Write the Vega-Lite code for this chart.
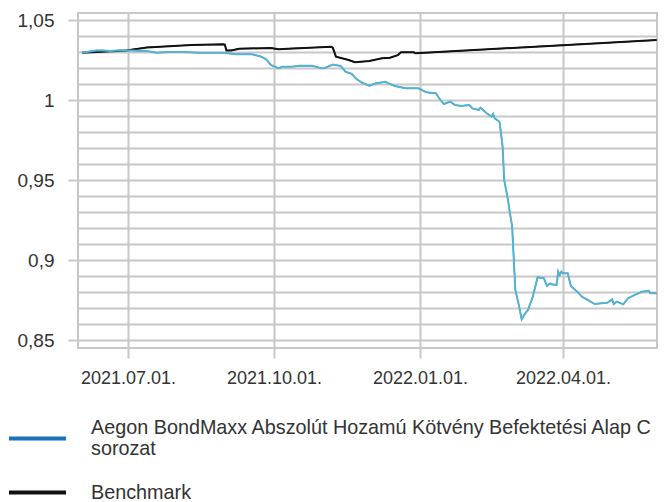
{
  "$schema": "https://vega.github.io/schema/vega-lite/v6.json",
  "width": 579,
  "height": 335,
  "autosize": "none",
  "padding": {"left": 78, "top": 13, "right": 8, "bottom": 154},
  "background": "white",
  "config": {
    "view": {"stroke": "#c8c8c8", "strokeWidth": 2},
    "font": "Liberation Sans"
  },
  "data": {
    "values": [
      {"date": "2021-06-02", "value": 1.0296, "series": "Benchmark"},
      {"date": "2021-06-30", "value": 1.031, "series": "Benchmark"},
      {"date": "2021-07-13", "value": 1.0329, "series": "Benchmark"},
      {"date": "2021-08-10", "value": 1.0344, "series": "Benchmark"},
      {"date": "2021-08-30", "value": 1.0348, "series": "Benchmark"},
      {"date": "2021-08-31", "value": 1.0346, "series": "Benchmark"},
      {"date": "2021-09-01", "value": 1.031, "series": "Benchmark"},
      {"date": "2021-09-04", "value": 1.031, "series": "Benchmark"},
      {"date": "2021-09-09", "value": 1.0321, "series": "Benchmark"},
      {"date": "2021-09-29", "value": 1.0325, "series": "Benchmark"},
      {"date": "2021-10-04", "value": 1.0317, "series": "Benchmark"},
      {"date": "2021-10-10", "value": 1.0321, "series": "Benchmark"},
      {"date": "2021-11-06", "value": 1.0333, "series": "Benchmark"},
      {"date": "2021-11-07", "value": 1.0327, "series": "Benchmark"},
      {"date": "2021-11-09", "value": 1.0271, "series": "Benchmark"},
      {"date": "2021-11-17", "value": 1.025, "series": "Benchmark"},
      {"date": "2021-11-21", "value": 1.0236, "series": "Benchmark"},
      {"date": "2021-11-30", "value": 1.0244, "series": "Benchmark"},
      {"date": "2021-12-08", "value": 1.0261, "series": "Benchmark"},
      {"date": "2021-12-13", "value": 1.0264, "series": "Benchmark"},
      {"date": "2021-12-18", "value": 1.0281, "series": "Benchmark"},
      {"date": "2021-12-20", "value": 1.0298, "series": "Benchmark"},
      {"date": "2021-12-28", "value": 1.0298, "series": "Benchmark"},
      {"date": "2021-12-29", "value": 1.0292, "series": "Benchmark"},
      {"date": "2022-04-01", "value": 1.0343, "series": "Benchmark"},
      {"date": "2022-05-30", "value": 1.0375, "series": "Benchmark"},
      {"date": "2021-06-02", "value": 1.0296, "series": "Aegon BondMaxx Abszolút Hozamú Kötvény Befektetési Alap C sorozat"},
      {"date": "2021-06-11", "value": 1.031, "series": "Aegon BondMaxx Abszolút Hozamú Kötvény Befektetési Alap C sorozat"},
      {"date": "2021-06-15", "value": 1.031, "series": "Aegon BondMaxx Abszolút Hozamú Kötvény Befektetési Alap C sorozat"},
      {"date": "2021-06-20", "value": 1.0306, "series": "Aegon BondMaxx Abszolút Hozamú Kötvény Befektetési Alap C sorozat"},
      {"date": "2021-06-26", "value": 1.0311, "series": "Aegon BondMaxx Abszolút Hozamú Kötvény Befektetési Alap C sorozat"},
      {"date": "2021-07-01", "value": 1.031, "series": "Aegon BondMaxx Abszolút Hozamú Kötvény Befektetési Alap C sorozat"},
      {"date": "2021-07-13", "value": 1.0306, "series": "Aegon BondMaxx Abszolút Hozamú Kötvény Befektetési Alap C sorozat"},
      {"date": "2021-07-19", "value": 1.0296, "series": "Aegon BondMaxx Abszolút Hozamú Kötvény Befektetési Alap C sorozat"},
      {"date": "2021-07-27", "value": 1.03, "series": "Aegon BondMaxx Abszolút Hozamú Kötvény Befektetési Alap C sorozat"},
      {"date": "2021-08-04", "value": 1.03, "series": "Aegon BondMaxx Abszolút Hozamú Kötvény Befektetési Alap C sorozat"},
      {"date": "2021-08-15", "value": 1.0296, "series": "Aegon BondMaxx Abszolút Hozamú Kötvény Befektetési Alap C sorozat"},
      {"date": "2021-08-29", "value": 1.0296, "series": "Aegon BondMaxx Abszolút Hozamú Kötvény Befektetési Alap C sorozat"},
      {"date": "2021-09-02", "value": 1.0292, "series": "Aegon BondMaxx Abszolút Hozamú Kötvény Befektetési Alap C sorozat"},
      {"date": "2021-09-07", "value": 1.0286, "series": "Aegon BondMaxx Abszolút Hozamú Kötvény Befektetési Alap C sorozat"},
      {"date": "2021-09-17", "value": 1.0286, "series": "Aegon BondMaxx Abszolút Hozamú Kötvény Befektetési Alap C sorozat"},
      {"date": "2021-09-23", "value": 1.0271, "series": "Aegon BondMaxx Abszolút Hozamú Kötvény Befektetési Alap C sorozat"},
      {"date": "2021-09-26", "value": 1.0254, "series": "Aegon BondMaxx Abszolút Hozamú Kötvény Befektetési Alap C sorozat"},
      {"date": "2021-09-29", "value": 1.0219, "series": "Aegon BondMaxx Abszolút Hozamú Kötvény Befektetési Alap C sorozat"},
      {"date": "2021-10-04", "value": 1.0198, "series": "Aegon BondMaxx Abszolút Hozamú Kötvény Befektetési Alap C sorozat"},
      {"date": "2021-10-06", "value": 1.0208, "series": "Aegon BondMaxx Abszolút Hozamú Kötvény Befektetési Alap C sorozat"},
      {"date": "2021-10-12", "value": 1.0208, "series": "Aegon BondMaxx Abszolút Hozamú Kötvény Befektetési Alap C sorozat"},
      {"date": "2021-10-17", "value": 1.0214, "series": "Aegon BondMaxx Abszolút Hozamú Kötvény Befektetési Alap C sorozat"},
      {"date": "2021-10-25", "value": 1.0214, "series": "Aegon BondMaxx Abszolút Hozamú Kötvény Befektetési Alap C sorozat"},
      {"date": "2021-10-31", "value": 1.0198, "series": "Aegon BondMaxx Abszolút Hozamú Kötvény Befektetési Alap C sorozat"},
      {"date": "2021-11-02", "value": 1.02, "series": "Aegon BondMaxx Abszolút Hozamú Kötvény Befektetési Alap C sorozat"},
      {"date": "2021-11-07", "value": 1.0222, "series": "Aegon BondMaxx Abszolút Hozamú Kötvény Befektetési Alap C sorozat"},
      {"date": "2021-11-12", "value": 1.0213, "series": "Aegon BondMaxx Abszolút Hozamú Kötvény Befektetési Alap C sorozat"},
      {"date": "2021-11-15", "value": 1.0177, "series": "Aegon BondMaxx Abszolút Hozamú Kötvény Befektetési Alap C sorozat"},
      {"date": "2021-11-19", "value": 1.0163, "series": "Aegon BondMaxx Abszolút Hozamú Kötvény Befektetési Alap C sorozat"},
      {"date": "2021-11-22", "value": 1.0131, "series": "Aegon BondMaxx Abszolút Hozamú Kötvény Befektetési Alap C sorozat"},
      {"date": "2021-11-25", "value": 1.0111, "series": "Aegon BondMaxx Abszolút Hozamú Kötvény Befektetési Alap C sorozat"},
      {"date": "2021-11-30", "value": 1.0089, "series": "Aegon BondMaxx Abszolút Hozamú Kötvény Befektetési Alap C sorozat"},
      {"date": "2021-12-04", "value": 1.0104, "series": "Aegon BondMaxx Abszolút Hozamú Kötvény Befektetési Alap C sorozat"},
      {"date": "2021-12-10", "value": 1.0114, "series": "Aegon BondMaxx Abszolút Hozamú Kötvény Befektetési Alap C sorozat"},
      {"date": "2021-12-16", "value": 1.0088, "series": "Aegon BondMaxx Abszolút Hozamú Kötvény Befektetési Alap C sorozat"},
      {"date": "2021-12-23", "value": 1.0073, "series": "Aegon BondMaxx Abszolút Hozamú Kötvény Befektetési Alap C sorozat"},
      {"date": "2021-12-31", "value": 1.0073, "series": "Aegon BondMaxx Abszolút Hozamú Kötvény Befektetési Alap C sorozat"},
      {"date": "2022-01-05", "value": 1.0048, "series": "Aegon BondMaxx Abszolút Hozamú Kötvény Befektetési Alap C sorozat"},
      {"date": "2022-01-11", "value": 1.0042, "series": "Aegon BondMaxx Abszolút Hozamú Kötvény Befektetési Alap C sorozat"},
      {"date": "2022-01-13", "value": 1.0011, "series": "Aegon BondMaxx Abszolút Hozamú Kötvény Befektetési Alap C sorozat"},
      {"date": "2022-01-16", "value": 0.9975, "series": "Aegon BondMaxx Abszolút Hozamú Kötvény Befektetési Alap C sorozat"},
      {"date": "2022-01-20", "value": 0.999, "series": "Aegon BondMaxx Abszolút Hozamú Kötvény Befektetési Alap C sorozat"},
      {"date": "2022-01-23", "value": 0.9969, "series": "Aegon BondMaxx Abszolút Hozamú Kötvény Befektetési Alap C sorozat"},
      {"date": "2022-01-27", "value": 0.9963, "series": "Aegon BondMaxx Abszolút Hozamú Kötvény Befektetési Alap C sorozat"},
      {"date": "2022-02-01", "value": 0.9969, "series": "Aegon BondMaxx Abszolút Hozamú Kötvény Befektetési Alap C sorozat"},
      {"date": "2022-02-03", "value": 0.9948, "series": "Aegon BondMaxx Abszolút Hozamú Kötvény Befektetési Alap C sorozat"},
      {"date": "2022-02-07", "value": 0.9938, "series": "Aegon BondMaxx Abszolút Hozamú Kötvény Befektetési Alap C sorozat"},
      {"date": "2022-02-08", "value": 0.9952, "series": "Aegon BondMaxx Abszolút Hozamú Kötvény Befektetési Alap C sorozat"},
      {"date": "2022-02-12", "value": 0.9917, "series": "Aegon BondMaxx Abszolút Hozamú Kötvény Befektetési Alap C sorozat"},
      {"date": "2022-02-15", "value": 0.9896, "series": "Aegon BondMaxx Abszolút Hozamú Kötvény Befektetési Alap C sorozat"},
      {"date": "2022-02-16", "value": 0.9913, "series": "Aegon BondMaxx Abszolút Hozamú Kötvény Befektetési Alap C sorozat"},
      {"date": "2022-02-17", "value": 0.9886, "series": "Aegon BondMaxx Abszolút Hozamú Kötvény Befektetési Alap C sorozat"},
      {"date": "2022-02-20", "value": 0.9864, "series": "Aegon BondMaxx Abszolút Hozamú Kötvény Befektetési Alap C sorozat"},
      {"date": "2022-02-21", "value": 0.9792, "series": "Aegon BondMaxx Abszolút Hozamú Kötvény Befektetési Alap C sorozat"},
      {"date": "2022-02-22", "value": 0.9708, "series": "Aegon BondMaxx Abszolút Hozamú Kötvény Befektetési Alap C sorozat"},
      {"date": "2022-02-23", "value": 0.95, "series": "Aegon BondMaxx Abszolút Hozamú Kötvény Befektetési Alap C sorozat"},
      {"date": "2022-02-25", "value": 0.9396, "series": "Aegon BondMaxx Abszolút Hozamú Kötvény Befektetési Alap C sorozat"},
      {"date": "2022-02-28", "value": 0.9208, "series": "Aegon BondMaxx Abszolút Hozamú Kötvény Befektetési Alap C sorozat"},
      {"date": "2022-03-02", "value": 0.8813, "series": "Aegon BondMaxx Abszolút Hozamú Kötvény Befektetési Alap C sorozat"},
      {"date": "2022-03-04", "value": 0.8729, "series": "Aegon BondMaxx Abszolút Hozamú Kötvény Befektetési Alap C sorozat"},
      {"date": "2022-03-06", "value": 0.8629, "series": "Aegon BondMaxx Abszolút Hozamú Kötvény Befektetési Alap C sorozat"},
      {"date": "2022-03-08", "value": 0.8663, "series": "Aegon BondMaxx Abszolút Hozamú Kötvény Befektetési Alap C sorozat"},
      {"date": "2022-03-10", "value": 0.8688, "series": "Aegon BondMaxx Abszolút Hozamú Kötvény Befektetési Alap C sorozat"},
      {"date": "2022-03-13", "value": 0.877, "series": "Aegon BondMaxx Abszolút Hozamú Kötvény Befektetési Alap C sorozat"},
      {"date": "2022-03-16", "value": 0.8892, "series": "Aegon BondMaxx Abszolút Hozamú Kötvény Befektetési Alap C sorozat"},
      {"date": "2022-03-20", "value": 0.8886, "series": "Aegon BondMaxx Abszolút Hozamú Kötvény Befektetési Alap C sorozat"},
      {"date": "2022-03-22", "value": 0.8838, "series": "Aegon BondMaxx Abszolút Hozamú Kötvény Befektetési Alap C sorozat"},
      {"date": "2022-03-24", "value": 0.8854, "series": "Aegon BondMaxx Abszolút Hozamú Kötvény Befektetési Alap C sorozat"},
      {"date": "2022-03-25", "value": 0.8848, "series": "Aegon BondMaxx Abszolút Hozamú Kötvény Befektetési Alap C sorozat"},
      {"date": "2022-03-28", "value": 0.8844, "series": "Aegon BondMaxx Abszolút Hozamú Kötvény Befektetési Alap C sorozat"},
      {"date": "2022-03-29", "value": 0.8927, "series": "Aegon BondMaxx Abszolút Hozamú Kötvény Befektetési Alap C sorozat"},
      {"date": "2022-03-30", "value": 0.8906, "series": "Aegon BondMaxx Abszolút Hozamú Kötvény Befektetési Alap C sorozat"},
      {"date": "2022-03-31", "value": 0.8927, "series": "Aegon BondMaxx Abszolút Hozamú Kötvény Befektetési Alap C sorozat"},
      {"date": "2022-04-01", "value": 0.8917, "series": "Aegon BondMaxx Abszolút Hozamú Kötvény Befektetési Alap C sorozat"},
      {"date": "2022-04-04", "value": 0.8917, "series": "Aegon BondMaxx Abszolút Hozamú Kötvény Befektetési Alap C sorozat"},
      {"date": "2022-04-06", "value": 0.8838, "series": "Aegon BondMaxx Abszolút Hozamú Kötvény Befektetési Alap C sorozat"},
      {"date": "2022-04-10", "value": 0.8802, "series": "Aegon BondMaxx Abszolút Hozamú Kötvény Befektetési Alap C sorozat"},
      {"date": "2022-04-13", "value": 0.877, "series": "Aegon BondMaxx Abszolút Hozamú Kötvény Befektetési Alap C sorozat"},
      {"date": "2022-04-16", "value": 0.8754, "series": "Aegon BondMaxx Abszolút Hozamú Kötvény Befektetési Alap C sorozat"},
      {"date": "2022-04-21", "value": 0.8725, "series": "Aegon BondMaxx Abszolút Hozamú Kötvény Befektetési Alap C sorozat"},
      {"date": "2022-04-25", "value": 0.8729, "series": "Aegon BondMaxx Abszolút Hozamú Kötvény Befektetési Alap C sorozat"},
      {"date": "2022-04-29", "value": 0.8733, "series": "Aegon BondMaxx Abszolút Hozamú Kötvény Befektetési Alap C sorozat"},
      {"date": "2022-05-02", "value": 0.8754, "series": "Aegon BondMaxx Abszolút Hozamú Kötvény Befektetési Alap C sorozat"},
      {"date": "2022-05-03", "value": 0.8725, "series": "Aegon BondMaxx Abszolút Hozamú Kötvény Befektetési Alap C sorozat"},
      {"date": "2022-05-05", "value": 0.874, "series": "Aegon BondMaxx Abszolút Hozamú Kötvény Befektetési Alap C sorozat"},
      {"date": "2022-05-09", "value": 0.8723, "series": "Aegon BondMaxx Abszolút Hozamú Kötvény Befektetési Alap C sorozat"},
      {"date": "2022-05-12", "value": 0.8761, "series": "Aegon BondMaxx Abszolút Hozamú Kötvény Befektetési Alap C sorozat"},
      {"date": "2022-05-16", "value": 0.8781, "series": "Aegon BondMaxx Abszolút Hozamú Kötvény Befektetési Alap C sorozat"},
      {"date": "2022-05-21", "value": 0.8802, "series": "Aegon BondMaxx Abszolút Hozamú Kötvény Befektetési Alap C sorozat"},
      {"date": "2022-05-25", "value": 0.8808, "series": "Aegon BondMaxx Abszolút Hozamú Kötvény Befektetési Alap C sorozat"},
      {"date": "2022-05-26", "value": 0.8792, "series": "Aegon BondMaxx Abszolút Hozamú Kötvény Befektetési Alap C sorozat"},
      {"date": "2022-05-30", "value": 0.8792, "series": "Aegon BondMaxx Abszolút Hozamú Kötvény Befektetési Alap C sorozat"}
    ]
  },
  "encoding": {
    "x": {
      "field": "date",
      "type": "temporal",
      "scale": {
        "type": "utc",
        "domain": [
          {"year": 2021, "month": 5, "date": 30, "hours": 12, "utc": true},
          {"year": 2022, "month": 5, "date": 30, "hours": 6, "utc": true}
        ]
      },
      "axis": {
        "title": null,
        "values": [
          {"year": 2021, "month": 7, "date": 1, "utc": true},
          {"year": 2021, "month": 10, "date": 1, "utc": true},
          {"year": 2022, "month": 1, "date": 1, "utc": true},
          {"year": 2022, "month": 4, "date": 1, "utc": true}
        ],
        "format": "%Y.%m.%d.",
        "grid": true,
        "gridColor": "#c8c8c8",
        "gridWidth": 2,
        "domain": false,
        "ticks": true,
        "tickColor": "#c8c8c8",
        "tickWidth": 2,
        "tickSize": 10,
        "labelPadding": 11,
        "labelFont": "Liberation Sans",
        "labelFontSize": 18,
        "labelColor": "#333333",
        "labelAlign": "center",
        "labelOverlap": false,
        "labelFlush": false
      }
    },
    "y": {
      "field": "value",
      "type": "quantitative",
      "scale": {"domain": [0.845, 1.0544], "nice": false, "zero": false},
      "axis": {
        "title": null,
        "values": [0.85, 0.86, 0.87, 0.88, 0.89, 0.9, 0.91, 0.92, 0.93, 0.94, 0.95, 0.96, 0.97, 0.98, 0.99, 1.0, 1.01, 1.02, 1.03, 1.04, 1.05],
        "labelExpr": "abs(datum.value * 20 - round(datum.value * 20)) < 0.001 ? replace(format(datum.value, '.2~f'), '.', ',') : ''",
        "grid": true,
        "gridColor": "#c8c8c8",
        "gridWidth": 2,
        "domain": false,
        "ticks": true,
        "tickSize": 10,
        "tickWidth": 2,
        "tickColor": {"condition": {"test": "abs(datum.value * 20 - round(datum.value * 20)) < 0.001", "value": "#c8c8c8"}, "value": "transparent"},
        "labelPadding": 14,
        "labelFont": "Liberation Sans",
        "labelFontSize": 19,
        "labelColor": "#333333",
        "labelOverlap": false,
        "labelFlush": false
      }
    }
  },
  "layer": [
    {
      "mark": {"type": "line", "strokeWidth": 1.2, "interpolate": "linear"},
      "encoding": {
        "color": {
          "field": "series",
          "type": "nominal",
          "scale": {
            "domain": ["Aegon BondMaxx Abszolút Hozamú Kötvény Befektetési Alap C sorozat", "Benchmark"],
            "range": ["#1a73bd", "#111111"]
          },
          "legend": {
            "title": null,
            "orient": "none",
            "legendX": -71,
            "legendY": 395,
            "direction": "vertical",
            "padding": 0,
            "symbolType": "stroke",
            "symbolSize": 3249,
            "symbolStrokeWidth": 4,
            "labelFont": "Liberation Sans",
            "labelFontSize": 19.8,
            "labelColor": "#333333",
            "labelOffset": 23,
            "labelLimit": 0,
            "rowPadding": 2,
            "labelBaseline": {"expr": "datum.label == 'Benchmark' ? 'middle' : 'line-bottom'"},
            "labelExpr": "datum.label == 'Benchmark' ? 'Benchmark' : ['Aegon BondMaxx Abszolút Hozamú Kötvény Befektetési Alap C', 'sorozat']"
          }
        }
      }
    },
    {
      "mark": {"type": "line", "strokeWidth": 2, "interpolate": "linear"},
      "encoding": {
        "stroke": {
          "field": "series",
          "type": "nominal",
          "scale": {
            "domain": ["Aegon BondMaxx Abszolút Hozamú Kötvény Befektetési Alap C sorozat", "Benchmark"],
            "range": ["#55b3d0", "#111111"]
          },
          "legend": null
        }
      }
    }
  ],
  "resolve": {"scale": {"color": "independent", "stroke": "independent"}}
}
